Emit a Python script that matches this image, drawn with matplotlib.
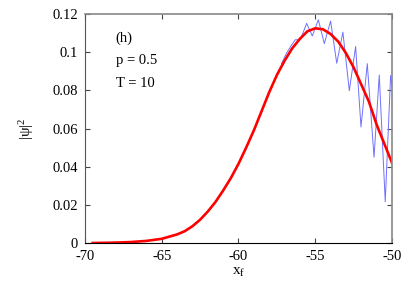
import matplotlib
matplotlib.use("Agg")
import matplotlib.pyplot as plt
from matplotlib.ticker import FormatStrFormatter

# ---------- dati ----------
red_x = [-69.5, -68, -67, -66, -65, -64, -63.5, -63, -62.5, -62, -61.5, -61,
         -60.5, -60, -59.5, -59, -58.5, -58, -57.5, -57, -56.5, -56, -55.5,
         -55, -54.5, -54, -53.5, -53, -52.5, -52, -51.5, -51, -50.5, -50]
red_y = [0.0, 0.0002, 0.0005, 0.0011, 0.0022, 0.0045, 0.0062, 0.0088, 0.0122,
         0.0165, 0.0215, 0.0275, 0.034, 0.0415, 0.050, 0.059, 0.069, 0.079,
         0.088, 0.0955, 0.102, 0.107, 0.111, 0.1125, 0.112, 0.1095, 0.1055,
         0.0995, 0.092, 0.083, 0.074, 0.062, 0.052, 0.042]

blue_x = [-57.2, -56.9, -56.6, -56.3, -56.0, -55.8, -55.56, -55.19, -54.8,
          -54.41, -54.0, -53.6, -53.2, -52.78, -52.37, -52.02, -51.61, -51.17,
          -50.83, -50.44, -50.09, -50.0]
blue_y = [0.094, 0.099, 0.103, 0.1065, 0.1065, 0.110, 0.1151, 0.1085, 0.1170,
          0.1045, 0.1163, 0.0942, 0.1105, 0.0798, 0.1030, 0.0608, 0.0940,
          0.0449, 0.0880, 0.0216, 0.0878, 0.082]

x_ticks = [-70, -65, -60, -55, -50]
y_ticks = [0, 0.02, 0.04, 0.06, 0.08, 0.1, 0.12]
notes = ["(h)", "p = 0.5", "T = 10"]

plt.rcParams['font.family'] = ['Liberation Serif', 'DejaVu Serif']
plt.rcParams['axes.unicode_minus'] = False
plt.rcParams['mathtext.fontset'] = 'custom'
plt.rcParams['mathtext.rm'] = 'Liberation Serif'
plt.rcParams['mathtext.it'] = 'Liberation Serif'

fig = plt.figure(figsize=(4.09, 2.86), dpi=100)
ax = fig.add_axes([85 / 409, 43 / 286, 307 / 409, 229 / 286])

ax.plot(blue_x, blue_y, color='#7070ff', lw=0.7)
ax.plot(red_x, red_y, color='#ff0000', lw=1.9)

ax.set_xlim(-70, -50)
ax.set_ylim(0, 0.12)
ax.set_xticks(x_ticks)
ax.set_yticks(y_ticks)
ax.yaxis.set_major_formatter(FormatStrFormatter('%g'))
ax.tick_params(direction='in', length=3.5, top=True, right=True,
               labelsize=10.5, pad=5, color='#444444')

for side in ('top', 'right'):
    ax.spines[side].set_color('#888888')
    ax.spines[side].set_linewidth(1.2)
ax.spines['left'].set_color('#555555')
ax.spines['bottom'].set_color('black')

ax.set_xlabel(r'x$_\mathrm{f}$', fontsize=11, labelpad=2)
ax.set_ylabel(r'|$\mathrm{\psi}$|$^2$', fontsize=11, labelpad=12)

for i, t in enumerate(notes):
    ax.text(-68.0, 0.1074 - i * 0.0118, t, fontsize=10.5, va='center', ha='left')

fig.savefig("out.png", dpi=100)
